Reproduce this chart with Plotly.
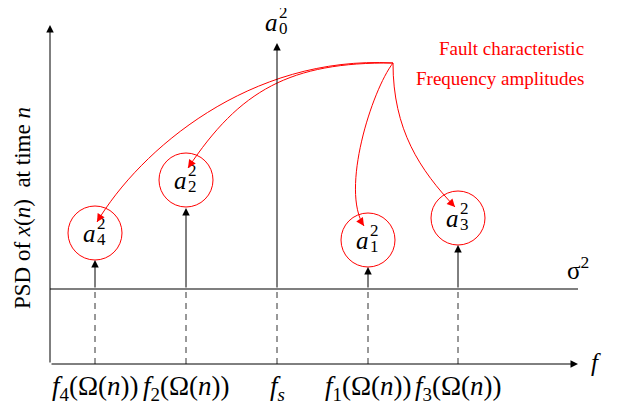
import plotly.graph_objects as go

# ---------------------------------------------------------------------------
# Diagram data (x: frequency position, y: PSD level; origin at the axes corner)
# ---------------------------------------------------------------------------
freq_labels = ["<i>f</i><sub>4</sub>(Ω(<i>n</i>))", "<i>f</i><sub>2</sub>(Ω(<i>n</i>))",
               "<i>f</i><sub><i>s</i></sub>", "<i>f</i><sub>1</sub>(Ω(<i>n</i>))",
               "<i>f</i><sub>3</sub>(Ω(<i>n</i>))"]
freq_x = [45, 136, 227, 318, 408]
spike_top = [104, 156, 321, 97, 119]
sigma_level = 75

amp_sub = ["4", "2", "1", "3"]
amp_x = [45, 136, 318, 408]
amp_y = [131, 184, 124, 146]

# red curved arrows: start point and bezier controls, ending near each amplitude
curve_start = (343, 301)
curve_c1 = [(200, 309), (240, 302), (322, 274), (343, 234)]
curve_c2 = [(90, 214), (190, 274), (290, 174), (370, 194)]
curve_end = [(47, 142), (138, 196), (314, 138), (405, 157)]

x_end = 528
y_end = 339

SERIF = "Liberation Serif"
RED = "#ff0000"

fig = go.Figure()
# invisible trace to anchor the axes
fig.add_trace(go.Scatter(x=[0, x_end], y=[0, y_end], mode="markers",
                         marker=dict(opacity=0), hoverinfo="skip", showlegend=False))

shapes = []
annotations = []


def arrow(x, y, ax, ay, color="black"):
    annotations.append(dict(x=x, y=y, ax=ax, ay=ay, axref="x", ayref="y", xref="x", yref="y",
                            text="", showarrow=True, arrowhead=2, arrowsize=1.5, arrowwidth=1,
                            arrowcolor=color))


# axes with arrowheads
arrow(x_end, 0, 0, 0)
arrow(0, y_end, 0, 0)

# noise floor
shapes.append(dict(type="line", x0=0, x1=x_end, y0=sigma_level, y1=sigma_level,
                   line=dict(color="#555555", width=1.5)))

# spikes: dashed below noise floor, arrow above
for x, top, lab in zip(freq_x, spike_top, freq_labels):
    shapes.append(dict(type="line", x0=x, x1=x, y0=0, y1=sigma_level,
                       line=dict(color="#333333", width=1, dash="6px,5px")))
    arrow(x, top, x, sigma_level)
    annotations.append(dict(x=x, y=-24, xref="x", yref="y", text=lab, showarrow=False,
                            font=dict(family=SERIF, size=27, color="black")))


# amplitude labels a_k^2 (sub and superscript stacked)
def add_a(x, y, sub):
    annotations.append(dict(x=x, y=y, xref="x", yref="y", text="<i>a</i>", showarrow=False,
                            xshift=-6, font=dict(family=SERIF, size=25, color="black")))
    annotations.append(dict(x=x, y=y, xref="x", yref="y", text="2", showarrow=False,
                            xshift=6, yshift=10, font=dict(family=SERIF, size=17, color="black")))
    annotations.append(dict(x=x, y=y, xref="x", yref="y", text=sub, showarrow=False,
                            xshift=6, yshift=-6, font=dict(family=SERIF, size=17, color="black")))


for x, y, s in zip(amp_x, amp_y, amp_sub):
    shapes.append(dict(type="circle", x0=x - 27, x1=x + 27, y0=y - 27, y1=y + 27,
                       line=dict(color=RED, width=1)))
    add_a(x, y, s)

add_a(227, 342, "0")

# red curved arrows
for c1, c2, end in zip(curve_c1, curve_c2, curve_end):
    path = (f"M {curve_start[0]},{curve_start[1]} C {c1[0]},{c1[1]} "
            f"{c2[0]},{c2[1]} {end[0]},{end[1]}")
    shapes.append(dict(type="path", path=path, line=dict(color=RED, width=1)))
    dx, dy = c2[0] - end[0], c2[1] - end[1]
    n = (dx ** 2 + dy ** 2) ** 0.5
    annotations.append(dict(x=end[0], y=end[1], xref="x", yref="y", text="",
                            showarrow=True, arrowhead=2, arrowsize=1.6, arrowwidth=1,
                            arrowcolor=RED, ax=dx / n * 9, ay=-dy / n * 9))

# texts
annotations.append(dict(x=536, y=316, xref="x", yref="y", text="Fault characteristic",
                        xanchor="right", showarrow=False, font=dict(family=SERIF, size=19, color=RED)))
annotations.append(dict(x=536, y=286, xref="x", yref="y", text="Frequency amplitudes",
                        xanchor="right", showarrow=False, font=dict(family=SERIF, size=19, color=RED)))
annotations.append(dict(x=528, y=96, xref="x", yref="y", text="σ<sup>2</sup>",
                        showarrow=False, font=dict(family=SERIF, size=25, color="black")))
annotations.append(dict(x=546, y=2, xref="x", yref="y", text="<i>f</i>",
                        showarrow=False, font=dict(family=SERIF, size=25, color="black")))
annotations.append(dict(x=-28, y=156, xref="x", yref="y",
                        text="PSD of <i>x</i>(<i>n</i>)  at time <i>n</i>", textangle=-90,
                        showarrow=False, font=dict(family=SERIF, size=23, color="black")))

# page body has an 8px margin, so the ranges are shifted to keep the drawing in place
fig.update_layout(
    width=618, height=412,
    margin=dict(l=0, r=0, t=0, b=0),
    plot_bgcolor="white", paper_bgcolor="white",
    xaxis=dict(range=[-42, 576], visible=False, fixedrange=True),
    yaxis=dict(range=[-56, 356], visible=False, fixedrange=True),
    shapes=shapes, annotations=annotations, showlegend=False,
)

fig.write_html("out.html")
